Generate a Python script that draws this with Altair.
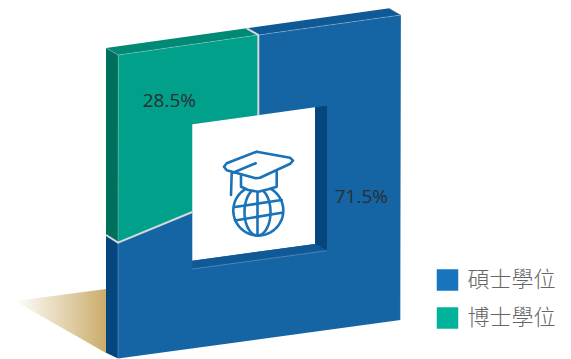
import numpy as np
import pandas as pd
import altair as alt

# Degree shares shown on the block and in the key
categories = ["碩士學位", "博士學位"]
shares = [71.5, 28.5]
key_colors = ["#1874BD", "#00B39A"]

# Block faces, as screen outlines
shadow = [(15, 301), (106, 289), (106, 353)]
blue_front = [(258.3, 35), (401, 15), (400.4, 320), (118, 358.4), (118, 242.7), (192.3, 212), (192.3, 124.3)]
blue_top = [(246.7, 28.3), (389.3, 8.3), (401, 15), (258.3, 35)]
blue_side = [(106, 235), (118, 242.7), (118, 358.4), (106, 352.7)]
teal_front = [(118.3, 55), (258.3, 35), (258.3, 115.2), (192.3, 124.3), (192.3, 212), (118, 242.7)]
teal_top = [(106, 48), (246.7, 28.3), (258.3, 35), (118.3, 55)]
teal_side = [(106, 48), (118.3, 55), (118, 242.7), (106, 235)]
opening = [(192.3, 124.3), (315, 107.3), (315, 244), (192.3, 260.7)]
opening_right = [(315, 107.3), (327, 105.7), (327, 250.7), (315, 244)]
opening_bottom = [(192.3, 260.7), (315, 244), (327, 250.7), (192.3, 269)]

# Seams between the two segments and faint highlights on the front edges
seams = [
    [(246.7, 28.3), (258.3, 35), (258.3, 115.2)],
    [(106, 235), (118, 242.7), (192.3, 212)],
]
highlights = [
    [(118.3, 55), (258.3, 35)],
    [(258.3, 35), (401, 15), (400.4, 320)],
    [(118.3, 55), (118, 242.7)],
    [(118, 242.7), (118, 358.4)],
    [(192.3, 269), (327, 250.7)],
    [(106, 48), (118.3, 55)],
    [(389.3, 8.3), (401, 15)],
]

# Graduation cap and globe emblem
hat = [(256.7, 151.7), (290, 157.7), (293, 160.7), (290.3, 163.7), (260, 177.7), (255.7, 178.3),
       (226.7, 170.3), (224, 166.7), (226.7, 163.3), (256.7, 151.7)]
tassel = [(255.7, 163.3), (231.7, 173.3), (231, 195)]
cap = [(241, 175.7), (241, 186.7), (248.3, 190), (258.3, 191.7), (268.3, 189.3), (276.7, 186.7), (276.7, 171)]
parallels = [[(235, 207), (281.7, 200)], [(235, 220.5), (281.7, 212.8)]]
axis_line = [(257.5, 190), (257.5, 235.5)]
label_xy = [(361.3, 203), (169.3, 107.2)]
key_y = [280, 318]


def ellipse(cx, cy, rx, ry, start=0.0, stop=360.0, count=72):
    angles = np.radians(np.linspace(start, stop, count))
    return [(float(cx + rx * np.cos(a)), float(cy + ry * np.sin(a))) for a in angles]


def area(outline, fill):
    ring = [list(p) for p in outline] + [list(outline[0])]
    return {"type": "Feature", "properties": {"fill": fill},
            "geometry": {"type": "Polygon", "coordinates": [ring]}}


def stroke(path):
    return {"type": "Feature", "properties": {},
            "geometry": {"type": "LineString", "coordinates": [list(p) for p in path]}}


identity = {"type": "identity", "scale": 1, "translate": [0, 0]}

faces = [
    area(blue_front, "#1565A5"), area(blue_top, "#0F5A96"), area(blue_side, "#06467E"),
    area(teal_front, "#00A08A"), area(teal_top, "#008A75"), area(teal_side, "#006F5C"),
    area(opening, "#FFFFFF"), area(opening_right, "#06467E"), area(opening_bottom, "#0F5A96"),
]

shadow_layer = alt.Chart(alt.Data(values=[area(shadow, "none")])).mark_geoshape(
    fill=alt.Gradient(
        gradient="linear", x1=0, x2=1, y1=0, y2=0,
        stops=[alt.GradientStop(offset=0, color="#FFFFFF"),
               alt.GradientStop(offset=1, color="#CBAD6B")],
    ),
    strokeWidth=0,
).project(**identity)

face_layer = alt.Chart(alt.Data(values=faces)).mark_geoshape(strokeWidth=0).encode(
    fill=alt.Fill("properties.fill:N", scale=None)
).project(**identity)

highlight_layer = alt.Chart(alt.Data(values=[stroke(p) for p in highlights])).mark_geoshape(
    filled=False, stroke="#FFFFFF", strokeOpacity=0.3, strokeWidth=0.8
).project(**identity)

seam_layer = alt.Chart(alt.Data(values=[stroke(p) for p in seams])).mark_geoshape(
    filled=False, stroke="#D2D8DC", strokeWidth=2
).project(**identity)

globe_lines = [ellipse(258.3, 210.5, 25, 25),
               ellipse(257.5, 212, 13, 23.5, -90, 90, 36),
               ellipse(257.5, 212, 13, 23.5, 90, 270, 36),
               axis_line] + parallels
emblem_lines = alt.Chart(alt.Data(values=[stroke(p) for p in globe_lines])).mark_geoshape(
    filled=False, stroke="#1A73B8", strokeWidth=2.6, strokeCap="round", strokeJoin="round"
).project(**identity)

cap_fill = alt.Chart(alt.Data(values=[area(cap + [(258, 176)], "#FFFFFF")])).mark_geoshape(
    fill="#FFFFFF", strokeWidth=0
).project(**identity)

hat_lines = alt.Chart(alt.Data(values=[stroke(hat), stroke(tassel), stroke(cap)])).mark_geoshape(
    filled=False, stroke="#1A73B8", strokeWidth=2.6, strokeCap="round", strokeJoin="round"
).project(**identity)

values = pd.DataFrame({
    "label": [f"{v}%" for v in shares],
    "x": [p[0] for p in label_xy],
    "y": [p[1] for p in label_xy],
})
value_text = alt.Chart(values).mark_text(
    font="Open Sans", fontSize=19, color="#2A2F33", align="center", baseline="alphabetic"
).encode(longitude="x:Q", latitude="y:Q", text="label:N").project(**identity)

key = pd.DataFrame({
    "degree": categories,
    "color": key_colors,
    "y": key_y,
    "box_x": [447.5, 447.5],
    "text_x": [467.5, 467.5],
})
key_boxes = alt.Chart(key).mark_square(size=462, opacity=1, strokeWidth=0).encode(
    longitude="box_x:Q", latitude="y:Q",
    fill=alt.Fill("color:N", scale=None),
).project(**identity)
key_text = alt.Chart(key).mark_text(
    font="Noto Sans CJK TC", fontWeight=300, fontSize=22, color="#666666",
    align="left", baseline="middle",
).encode(longitude="text_x:Q", latitude="y:Q", text="degree:N").project(**identity)

chart = alt.layer(
    shadow_layer, face_layer, highlight_layer, seam_layer,
    emblem_lines, cap_fill, hat_lines, value_text, key_boxes, key_text,
).properties(
    width=571, height=359, padding=0, background="#FFFFFF",
    autosize=alt.AutoSizeParams(type="none"),
).configure_view(stroke=None)

chart.save("out.html", embed_options={"renderer": "svg", "actions": False})
